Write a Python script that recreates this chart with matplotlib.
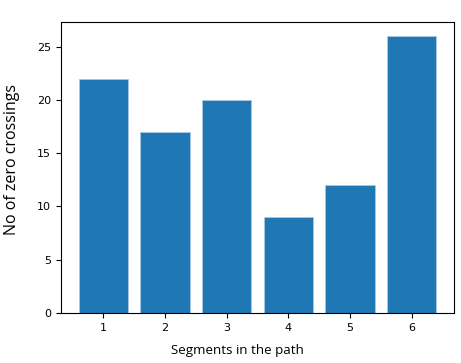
import matplotlib
matplotlib.use("Agg")
import matplotlib.pyplot as plt

segments = [1, 2, 3, 4, 5, 6]
crossings = [22, 17, 20, 9, 12, 26]

fig = plt.figure(figsize=(4.61, 3.63), dpi=100)
ax = fig.add_axes([0.132, 0.138, 0.853, 0.801])

ax.bar(segments, crossings, color="#1f77b4", edgecolor="#aac8e4", linewidth=0.6)
ax.tick_params(labelsize=8)
ax.set_xticks(segments)
ax.set_xlabel("Segments in the path", fontsize=9.6, family="Open Sans", labelpad=8)
ax.set_ylabel("No of zero crossings", fontsize=11.5, family="Open Sans", labelpad=12)
ax.xaxis.label.set_x(0.448)
ax.yaxis.label.set_y(0.526)

fig.savefig("out.png", dpi=100)
